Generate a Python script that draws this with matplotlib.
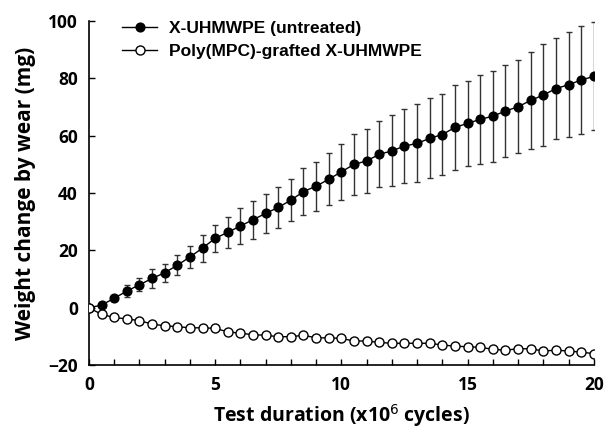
import numpy as np
import matplotlib.pyplot as plt
from matplotlib.ticker import MultipleLocator

# test duration (x10^6 cycles)
cycles = np.arange(0, 20.5, 0.5)

untreated = [0.0, 0.9, 3.3, 5.8, 8.0, 10.2, 12.2, 14.8, 17.7, 20.8, 24.2,
             26.3, 28.5, 30.7, 32.9, 35.0, 37.5, 40.5, 42.4, 44.8, 47.4,
             50.0, 51.2, 53.5, 54.7, 56.4, 57.3, 59.1, 60.4, 62.9, 64.3,
             65.7, 66.8, 68.6, 70.1, 72.3, 74.2, 76.4, 77.8, 79.4, 80.7]
untreated_err = [0.0, 0.4, 0.8, 2.0, 2.2, 3.2, 3.1, 3.5, 3.9, 4.7, 4.8,
                 5.5, 6.2, 6.7, 6.8, 7.2, 7.4, 8.2, 8.5, 9.0, 9.7,
                 10.6, 11.1, 11.5, 12.4, 13.0, 13.6, 14.0, 14.2, 14.8, 14.8,
                 15.4, 15.9, 15.9, 16.2, 17.0, 17.7, 17.7, 18.2, 18.8, 18.8]

grafted = [0.0, -2.3, -3.4, -3.9, -4.5, -5.7, -6.3, -6.6, -7.0, -7.0, -7.2,
           -8.4, -8.9, -9.4, -9.6, -10.1, -10.1, -9.6, -10.5, -10.5, -10.7,
           -11.6, -11.6, -12.1, -12.4, -12.4, -12.4, -12.4, -13.0, -13.4,
           -13.6, -13.8, -14.5, -14.8, -14.3, -14.3, -15.1, -14.8, -15.1,
           -15.5, -16.0]

labels = ['X-UHMWPE (untreated)', 'Poly(MPC)-grafted X-UHMWPE']

fig = plt.figure(figsize=(6.09, 4.29), dpi=100)
ax = fig.add_axes([0.146, 0.149, 0.829, 0.802])

ax.errorbar(cycles, untreated, yerr=untreated_err, fmt='none',
            ecolor='#333333', elinewidth=1.0, capsize=2.5, capthick=1.0,
            zorder=2)
ax.plot(cycles, untreated, '-o', color='black', lw=1.0, ms=6.3,
        mfc='black', mec='black', label=labels[0], zorder=3)
ax.plot(cycles, grafted, '-o', color='black', lw=1.0, ms=6.5,
        mfc='white', mec='black', mew=1.0, label=labels[1], zorder=3)

ax.set_xlim(0, 20)
ax.set_ylim(-20, 100)
ax.xaxis.set_major_locator(MultipleLocator(5))
ax.xaxis.set_minor_locator(MultipleLocator(1))
ax.yaxis.set_major_locator(MultipleLocator(20))
ax.tick_params(which='both', direction='in', length=4, width=1)
ax.spines['top'].set_visible(False)
ax.spines['right'].set_visible(False)
for s in ('left', 'bottom'):
    ax.spines[s].set_linewidth(1.2)

for lab in ax.get_xticklabels() + ax.get_yticklabels():
    lab.set_fontfamily('Open Sans')
    lab.set_fontweight('bold')
    lab.set_fontsize(12.5)
ax.tick_params(axis='x', pad=8)
ax.tick_params(axis='y', pad=8)

ax.set_xlabel('Test duration (x10$^{6}$ cycles)', fontfamily='Open Sans',
              fontweight='bold', fontsize=14, labelpad=6)
ax.set_ylabel('Weight change by wear (mg)', fontfamily='Open Sans',
              fontweight='bold', fontsize=15, labelpad=9)

leg = ax.legend(loc='upper left', bbox_to_anchor=(0.035, 1.045),
                frameon=False, handlelength=2.0, handletextpad=0.7,
                labelspacing=0.45,
                prop={'family': 'Liberation Sans', 'weight': 'bold',
                      'size': 12.5})

fig.savefig('out.png', dpi=100)
